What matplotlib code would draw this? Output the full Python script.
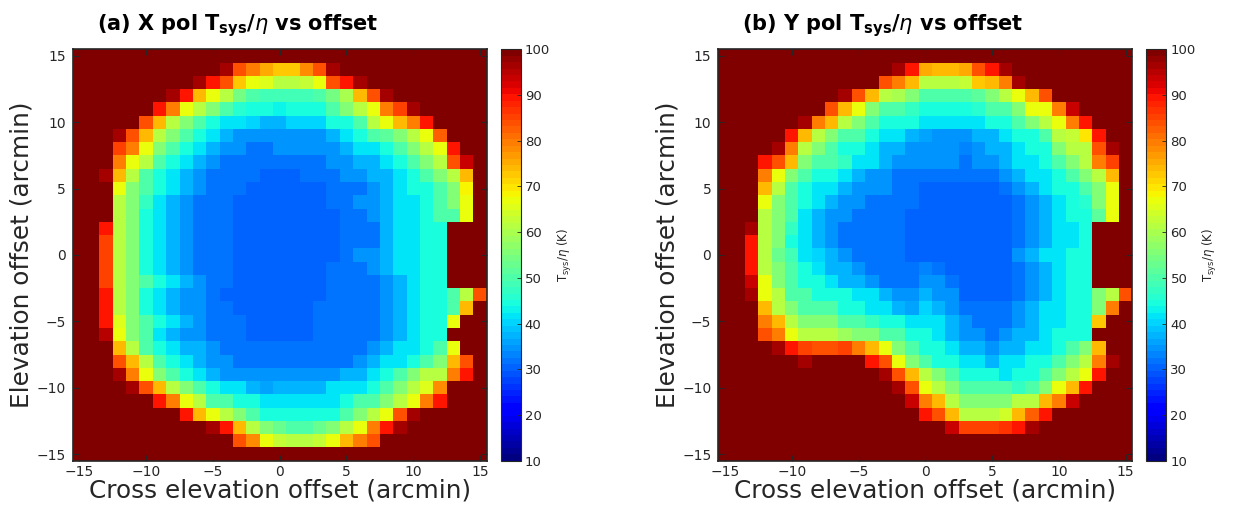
import numpy as np
import matplotlib
matplotlib.use("Agg")
import matplotlib.pyplot as plt

# Offsets of the raster grid (arcmin)
cross_el = np.arange(-15, 16)          # columns, left -> right
elev = np.arange(15, -16, -1)          # rows, top -> bottom
ticks = [-15, -10, -5, 0, 5, 10, 15]
cbar_ticks = [10, 20, 30, 40, 50, 60, 70, 80, 90, 100]

# Tsys/eta (K), X polarisation; one list per elevation row (top row = +15')
tsys_x = [
    [100]*31,
    [100]*11 + [96, 84, 80, 76, 72, 72, 78, 84, 96] + [100]*11,
    [100]*9 + [96, 89, 84, 72, 67, 65, 61, 61, 63, 67, 84, 89, 96] + [100]*9,
    [100]*7 + [96, 89, 74, 67, 61, 54, 50, 48, 48, 48, 49, 50, 54, 60, 74, 84, 96] + [100]*7,
    [100]*6 + [89, 80, 67, 61, 55, 50, 46, 45, 44, 43, 44, 45, 45, 50, 55, 61, 67, 80, 85, 96] + [100]*5,
    [100]*5 + [84, 74, 61, 55, 50, 45, 41, 41, 40, 38, 37, 40, 40, 40, 44, 45, 50, 61, 67, 74, 80, 89] + [100]*4,
    [100]*3 + [96, 84, 74, 61, 55, 50, 45, 41, 38, 35, 35, 35, 34, 35, 35, 35, 38, 41, 45, 50, 52, 55, 61, 67, 82] + [100]*3,
    [100]*3 + [85, 80, 67, 55, 50, 45, 41, 38, 35, 34, 32, 32, 34, 34, 34, 35, 35, 38, 41, 41, 45, 50, 55, 61, 67, 89] + [100]*2,
    [100]*3 + [80, 67, 61, 50, 45, 41, 38, 35, 32, 32, 32, 32, 32, 32, 32, 32, 34, 35, 38, 38, 41, 45, 50, 55, 61, 84, 93] + [100],
    [100]*2 + [97, 74, 61, 50, 45, 41, 38, 35, 32, 32, 32, 32, 31, 30, 31, 32, 32, 32, 35, 35, 38, 38, 41, 45, 50, 55, 61, 74] + [100],
    [100]*3 + [67, 55, 50, 45, 41, 38, 35, 32, 32, 32, 31, 30, 30, 30, 30, 30, 32, 32, 32, 35, 38, 41, 45, 45, 50, 55, 69] + [100],
    [100]*3 + [61, 55, 47, 41, 38, 35, 32, 32, 32, 31, 30, 30, 30, 30, 30, 30, 32, 32, 35, 35, 38, 41, 41, 45, 50, 55, 67] + [100],
    [100]*3 + [61, 55, 45, 41, 38, 35, 32, 32, 32, 30, 30, 30, 30, 30, 30, 30, 30, 32, 32, 35, 38, 41, 41, 45, 50, 50, 67] + [100],
    [100]*2 + [89, 61, 55, 45, 41, 38, 35, 32, 32, 32, 30, 30, 30, 30, 30, 30, 30, 30, 32, 32, 32, 38, 41, 41, 45, 45] + [100]*3,
    [100]*2 + [85, 61, 55, 45, 41, 38, 35, 32, 32, 32, 30, 30, 30, 30, 30, 30, 30, 30, 32, 32, 32, 38, 41, 41, 45, 45] + [100]*3,
    [100]*2 + [85, 61, 55, 45, 41, 38, 35, 32, 32, 32, 30, 30, 30, 30, 30, 30, 30, 30, 32, 35, 35, 38, 41, 41, 45, 45] + [100]*3,
    [100]*2 + [85, 61, 55, 45, 41, 38, 35, 32, 32, 32, 30, 30, 30, 30, 30, 30, 30, 32, 32, 32, 35, 38, 41, 41, 45, 45] + [100]*3,
    [100]*2 + [85, 61, 55, 50, 45, 41, 38, 35, 32, 32, 30, 30, 30, 30, 30, 30, 30, 32, 32, 32, 32, 35, 38, 41, 45, 45] + [100]*3,
    [100]*2 + [89, 61, 55, 45, 41, 38, 35, 35, 32, 30, 30, 30, 30, 30, 30, 30, 30, 32, 32, 32, 32, 35, 38, 41, 45, 45, 50, 61, 84],
    [100]*2 + [89, 61, 55, 45, 41, 38, 35, 35, 32, 32, 30, 30, 30, 30, 30, 30, 32, 32, 32, 32, 32, 35, 38, 41, 45, 45, 50, 74] + [100],
    [100]*2 + [89, 65, 55, 50, 45, 41, 38, 35, 32, 32, 32, 30, 30, 30, 30, 30, 32, 32, 32, 32, 32, 35, 38, 41, 45, 45, 67] + [100]*2,
    [100]*2 + [95, 67, 55, 50, 41, 38, 35, 35, 32, 32, 32, 31, 31, 31, 31, 31, 32, 32, 32, 32, 32, 35, 38, 41, 45, 45] + [100]*3,
    [100]*3 + [74, 61, 50, 45, 41, 38, 38, 35, 32, 32, 32, 32, 32, 32, 32, 32, 32, 32, 32, 35, 38, 41, 41, 45, 50, 67] + [100]*2,
    [100]*3 + [84, 74, 61, 50, 45, 41, 38, 35, 35, 32, 32, 32, 32, 32, 32, 32, 32, 32, 35, 38, 41, 41, 45, 50, 55, 74, 84] + [100],
    [100]*3 + [96, 80, 67, 55, 50, 45, 41, 38, 35, 35, 35, 34, 34, 35, 35, 35, 35, 38, 38, 41, 45, 50, 55, 61, 61, 80, 89] + [100],
    [100]*4 + [96, 84, 74, 61, 55, 50, 45, 41, 41, 38, 36, 38, 38, 38, 38, 41, 41, 41, 45, 50, 55, 61, 65, 78] + [100]*3,
    [100]*6 + [89, 80, 67, 61, 50, 50, 45, 45, 41, 41, 41, 41, 41, 41, 45, 50, 50, 55, 61, 67, 80, 89] + [100]*3,
    [100]*8 + [89, 74, 67, 61, 55, 50, 45, 45, 44, 44, 45, 45, 50, 55, 61, 67, 84, 96] + [100]*5,
    [100]*10 + [96, 89, 74, 61, 55, 53, 50, 50, 53, 55, 61, 67, 80, 89, 96] + [100]*6,
    [100]*12 + [84, 78, 67, 63, 61, 61, 63, 67, 74, 80, 84] + [100]*8,
    [100]*31,
]

# Tsys/eta (K), Y polarisation
tsys_y = [
    [100]*31,
    [100]*13 + [96, 89, 76, 74, 74, 76, 84, 89, 96] + [100]*9,
    [100]*12 + [84, 80, 74, 62, 62, 62, 63, 72, 74, 80, 96] + [100]*8,
    [100]*9 + [96, 84, 74, 61, 60, 55, 50, 50, 50, 50, 52, 55, 61, 67, 74, 84] + [100]*6,
    [100]*8 + [84, 74, 67, 55, 50, 50, 47, 45, 45, 45, 45, 46, 50, 50, 55, 67, 67, 80, 93] + [100]*4,
    [100]*6 + [96, 80, 74, 61, 55, 50, 45, 45, 44, 41, 41, 41, 41, 41, 45, 45, 50, 55, 61, 67, 80, 89] + [100]*3,
    [100]*5 + [89, 74, 61, 55, 50, 50, 45, 41, 41, 38, 36, 35, 35, 35, 38, 38, 41, 45, 45, 50, 61, 63, 70, 89] + [100]*2,
    [100]*4 + [96, 80, 61, 55, 50, 45, 45, 41, 38, 38, 35, 35, 35, 35, 33, 35, 38, 38, 41, 45, 45, 55, 61, 61, 84, 96] + [100],
    [100]*3 + [89, 84, 74, 55, 50, 50, 47, 41, 41, 38, 35, 35, 35, 35, 35, 32, 35, 35, 38, 41, 41, 45, 50, 55, 61, 80, 85] + [100],
    [100]*3 + [80, 67, 55, 50, 45, 45, 41, 38, 35, 35, 32, 32, 32, 32, 32, 32, 32, 32, 35, 38, 41, 41, 45, 50, 55, 61, 74] + [100],
    [100]*3 + [74, 61, 50, 45, 41, 41, 38, 35, 35, 35, 32, 32, 30, 30, 30, 30, 30, 30, 32, 35, 38, 41, 45, 45, 50, 55, 67] + [100],
    [100]*3 + [67, 55, 50, 45, 41, 38, 35, 35, 32, 32, 32, 32, 30, 30, 30, 30, 30, 30, 30, 32, 35, 38, 41, 45, 46, 55, 67] + [100],
    [100]*3 + [61, 55, 50, 41, 38, 35, 35, 32, 32, 32, 32, 31, 30, 30, 30, 30, 30, 30, 30, 32, 35, 38, 41, 45, 45, 52, 67] + [100],
    [100]*2 + [96, 61, 55, 47, 41, 38, 35, 32, 32, 32, 32, 32, 31, 30, 30, 30, 30, 30, 30, 30, 32, 35, 38, 41, 41, 45] + [100]*3,
    [100]*2 + [89, 61, 55, 45, 41, 38, 35, 32, 32, 32, 32, 32, 31, 30, 30, 30, 30, 30, 30, 30, 32, 35, 38, 41, 41, 45] + [100]*3,
    [100]*2 + [89, 61, 53, 48, 42, 40, 38, 35, 32, 32, 32, 32, 31, 31, 30, 30, 30, 30, 30, 30, 35, 38, 41, 41, 45, 45] + [100]*3,
    [100]*2 + [89, 61, 55, 50, 45, 41, 38, 38, 35, 32, 32, 32, 32, 33, 32, 30, 30, 30, 30, 30, 32, 35, 38, 41, 45, 45] + [100]*3,
    [100]*2 + [93, 67, 55, 50, 45, 45, 41, 38, 38, 35, 32, 32, 32, 35, 35, 32, 30, 30, 30, 30, 32, 35, 38, 41, 45, 45] + [100]*3,
    [100]*2 + [97, 67, 61, 50, 50, 45, 45, 45, 41, 41, 38, 35, 35, 38, 35, 35, 31, 30, 30, 30, 32, 35, 38, 41, 45, 45, 55, 61, 84],
    [100]*3 + [74, 61, 55, 50, 50, 50, 45, 45, 41, 41, 38, 36, 40, 38, 35, 32, 32, 32, 32, 35, 38, 41, 41, 45, 45, 55, 80] + [100],
    [100]*3 + [80, 74, 61, 55, 55, 55, 50, 50, 47, 45, 45, 41, 41, 41, 38, 35, 32, 32, 32, 35, 38, 41, 41, 45, 45, 72] + [100]*2,
    [100]*3 + [84, 80, 67, 61, 61, 61, 58, 55, 55, 50, 50, 45, 45, 41, 38, 35, 35, 32, 35, 38, 38, 41, 45, 45, 45] + [100]*3,
    [100]*4 + [96, 89, 85, 84, 84, 85, 80, 74, 67, 55, 50, 45, 45, 41, 38, 38, 35, 38, 38, 41, 41, 45, 50, 55, 74] + [100]*2,
    [100]*6 + [97] + [100]*4 + [89, 84, 67, 55, 50, 45, 45, 41, 41, 38, 41, 41, 45, 45, 50, 55, 61, 80, 96] + [100],
    [100]*12 + [96, 84, 74, 61, 55, 50, 45, 45, 45, 41, 45, 45, 50, 55, 61, 67, 89] + [100]*2,
    [100]*13 + [96, 84, 67, 61, 55, 50, 50, 50, 50, 47, 50, 55, 67, 74, 89] + [100]*3,
    [100]*14 + [94, 80, 74, 61, 55, 55, 55, 55, 61, 61, 74, 80, 94] + [100]*4,
    [100]*15 + [89, 84, 74, 61, 61, 61, 64, 74, 83, 89] + [100]*6,
    [100]*17 + [94, 85, 85, 85, 87, 89, 96] + [100]*7,
    [100]*31,
    [100]*31,
]

for grid in (tsys_x, tsys_y):
    assert len(grid) == len(elev)
    assert all(len(row) == len(cross_el) for row in grid)

INK = "#262626"
cmap = plt.get_cmap("jet").resampled(64)

fig = plt.figure(figsize=(12.33, 5.21), dpi=100)
W, H = 1233.0, 521.0
bottom = 1 - 460.7 / H
height = 411.4 / H

panels = [
    (72.7, 500.7, tsys_x, r"(a) X pol T$_{\mathbf{sys}}$/$\eta$ vs offset"),
    (718.3, 1146.3, tsys_y, r"(b) Y pol T$_{\mathbf{sys}}$/$\eta$ vs offset"),
]

for x0, cx0, grid, title in panels:
    ax = fig.add_axes([x0 / W, bottom, 414.0 / W, height])
    cax = fig.add_axes([cx0 / W, bottom, 20.0 / W, height])

    mesh = ax.pcolormesh(cross_el, elev, np.array(grid, dtype=float),
                         cmap=cmap, vmin=10, vmax=100, shading="nearest")
    ax.set_xlim(-15.5, 15.5)
    ax.set_ylim(-15.5, 15.5)
    ax.set_xticks(ticks)
    ax.set_yticks(ticks)
    ax.tick_params(direction="in", top=True, right=True, length=4,
                   width=0.8, labelsize=10, colors=INK)
    ax.tick_params(axis="x", pad=3)
    ax.tick_params(axis="y", pad=5)
    for sp in ax.spines.values():
        sp.set_color(INK)
        sp.set_linewidth(1.2)

    ax.text(0.398, 1.025, title, transform=ax.transAxes, ha="center",
            va="bottom", fontsize=15, fontweight="bold")
    ax.set_xlabel("Cross elevation offset (arcmin)", fontsize=17.8, color=INK,
                  labelpad=0)
    ax.set_ylabel("Elevation offset (arcmin)", fontsize=17.8, color=INK,
                  labelpad=2)

    cb = fig.colorbar(mesh, cax=cax, ticks=cbar_ticks)
    cb.outline.set_linewidth(0.8)
    cb.outline.set_edgecolor(INK)
    cax.tick_params(direction="in", length=3, width=0.6, labelsize=9.5,
                    colors=INK, pad=3)
    cb.set_label(r"T$_{\rm sys}$/$\eta$ (K)", fontsize=8.5, color=INK,
                 labelpad=4)

fig.savefig("out.png", dpi=100)
